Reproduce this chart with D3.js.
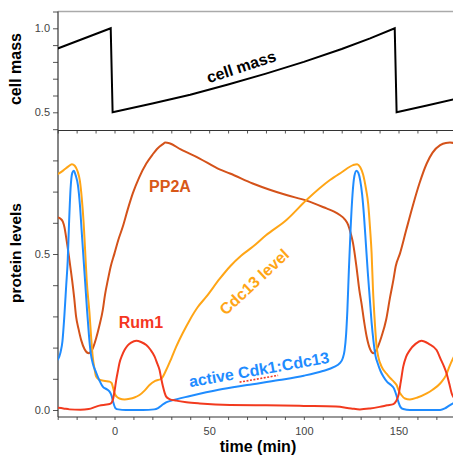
<!DOCTYPE html>
<html>
<head>
<meta charset="utf-8">
<script src="https://cdn.jsdelivr.net/npm/d3@7"></script>
<style>
	body { margin: 0; background: #fff; }
	svg { display: block; font-family: 'Liberation Sans', Arial, sans-serif; }
</style>
</head>
<body>
<svg id="chart" width="453" height="460"></svg>
<script>
// values (time in min)
const massT = [-30, -2, -1, 20, 40, 60, 80, 100, 120, 135, 148, 149, 165, 180];
const massV = [0.88, 1.0, 0.5, 0.552, 0.605, 0.665, 0.73, 0.8, 0.877, 0.94, 1.0, 0.5, 0.54, 0.58];

const cdkT = [-30, -28.5, -27.5, -26.5, -25.5, -24.7, -24, -23.2, -22.3, -21.5, -20.5, -19.3, -18.3, -17.3, -16.3, -15.5, -14.5, -13.5, -12.5, -11.5, -9.7, -8, -6.2, -4, -2.6, -1.5, -0.9, 0.5, 2, 6, 15, 21, 23, 25, 27, 30, 40, 55, 70, 87, 100, 110, 116, 119, 120.5, 121.5, 122.3, 123, 123.8, 124.7, 125.7, 126.7, 127.8, 128.8, 129.8, 130.8, 131.8, 132.8, 133.8, 134.8, 135.8, 136.8, 137.8, 139, 140.5, 142, 144, 146, 147.5, 149, 150, 151, 152.5, 156, 172, 174.5, 177, 180];
const cdkV = [0.16, 0.185, 0.22, 0.3, 0.4, 0.48, 0.6, 0.71, 0.76, 0.767, 0.752, 0.72, 0.66, 0.57, 0.48, 0.41, 0.32, 0.24, 0.18, 0.15, 0.12, 0.095, 0.075, 0.066, 0.059, 0.045, 0.03, 0.006, 0.002, 0, 0, 0.002, 0.006, 0.015, 0.024, 0.03, 0.045, 0.065, 0.08, 0.096, 0.11, 0.125, 0.138, 0.15, 0.165, 0.19, 0.24, 0.32, 0.45, 0.58, 0.69, 0.75, 0.767, 0.76, 0.735, 0.69, 0.62, 0.53, 0.44, 0.36, 0.28, 0.22, 0.175, 0.15, 0.125, 0.107, 0.09, 0.08, 0.07, 0.045, 0.025, 0.01, 0.003, 0, 0, 0.005, 0.015, 0.025];

const cdc13T = [-30, -27, -24.5, -22.5, -21, -19.5, -18.3, -17.3, -16.3, -15.5, -14.7, -13.2, -12.3, -11.5, -10.5, -9.7, -8, -5, -2.6, -1.5, -0.7, 0, 1.3, 2.6, 5.3, 8, 10.5, 13.2, 16, 18.5, 21.5, 24.7, 27.3, 30, 32.6, 36, 39.7, 44, 48.5, 55.5, 61, 67, 73, 80, 90.8, 101.4, 113.8, 120, 126, 128.2, 129.8, 131.3, 132.8, 134, 135, 135.8, 136.5, 137.5, 138.5, 139.3, 141, 144.3, 146, 147.5, 149, 150, 151.5, 153.4, 156, 160, 164.9, 168, 172, 175, 177.2, 180];
const cdc13V = [0.756, 0.768, 0.78, 0.788, 0.783, 0.765, 0.735, 0.68, 0.6, 0.51, 0.417, 0.31, 0.23, 0.17, 0.13, 0.107, 0.097, 0.093, 0.091, 0.086, 0.07, 0.054, 0.042, 0.037, 0.034, 0.036, 0.04, 0.048, 0.063, 0.08, 0.093, 0.1, 0.128, 0.165, 0.203, 0.246, 0.288, 0.33, 0.363, 0.42, 0.46, 0.495, 0.523, 0.56, 0.609, 0.673, 0.737, 0.762, 0.785, 0.788, 0.778, 0.755, 0.71, 0.66, 0.58, 0.502, 0.39, 0.28, 0.2, 0.171, 0.14, 0.112, 0.1, 0.091, 0.08, 0.064, 0.048, 0.037, 0.034, 0.04, 0.053, 0.065, 0.085, 0.11, 0.144, 0.18];

const pp2aT = [-30, -28.5, -27.3, -26.4, -25.6, -24.7, -23.8, -22.4, -21.3, -20.3, -19, -17.6, -15.8, -13.6, -11.5, -9.7, -8, -6.2, -5, -3.5, -2, 0, 2, 4.4, 7, 9.7, 13, 16.8, 20, 23, 25.6, 26.8, 29, 35, 45, 55.5, 61, 73, 82, 90.8, 101.4, 112, 116, 119, 121.5, 123.4, 124.8, 126, 127, 127.8, 129.3, 130.5, 131.8, 133.2, 135, 136.7, 138.5, 141, 143.5, 145.5, 147.3, 148.5, 150.8, 154, 157.9, 161, 164.9, 168, 172, 175, 177.2, 180];
const pp2aV = [0.617, 0.613, 0.604, 0.585, 0.556, 0.52, 0.48, 0.417, 0.36, 0.3, 0.26, 0.224, 0.195, 0.182, 0.197, 0.23, 0.27, 0.32, 0.37, 0.417, 0.46, 0.502, 0.545, 0.588, 0.643, 0.695, 0.745, 0.79, 0.818, 0.84, 0.852, 0.857, 0.855, 0.835, 0.806, 0.771, 0.758, 0.726, 0.706, 0.689, 0.671, 0.646, 0.636, 0.625, 0.612, 0.593, 0.565, 0.534, 0.495, 0.459, 0.385, 0.34, 0.285, 0.235, 0.195, 0.182, 0.195, 0.235, 0.29, 0.36, 0.417, 0.46, 0.502, 0.575, 0.662, 0.725, 0.79, 0.825, 0.849, 0.856, 0.857, 0.855];

const rum1T = [-30, -27, -23.8, -18, -13.6, -10, -8, -5, -2.6, -1.5, -0.9, 0, 0.9, 1.8, 2.6, 4, 5.3, 7, 8.8, 11.5, 14, 16.8, 19, 21.2, 22.5, 23.8, 24.7, 25.6, 26.5, 27.3, 29, 32.6, 38, 45, 61, 80, 100, 117, 125, 129.6, 135, 140, 144, 147.3, 148.7, 150, 151.2, 152.5, 154, 156, 159, 162.2, 166, 170.1, 172.5, 174, 175.4, 176.8, 178.1, 180];
const rum1V = [0.007, 0.005, 0.002, 0.001, 0.003, 0.01, 0.014, 0.017, 0.019, 0.024, 0.032, 0.06, 0.096, 0.125, 0.15, 0.175, 0.192, 0.207, 0.216, 0.222, 0.218, 0.208, 0.193, 0.171, 0.15, 0.128, 0.1, 0.075, 0.055, 0.043, 0.035, 0.03, 0.025, 0.021, 0.016, 0.015, 0.013, 0.011, 0.005, 0.002, 0.005, 0.01, 0.015, 0.019, 0.028, 0.048, 0.09, 0.139, 0.17, 0.192, 0.212, 0.222, 0.212, 0.192, 0.16, 0.14, 0.117, 0.085, 0.053, 0.035];

const xTicks = [0, 50, 100, 150];
const massTicks = [0.5, 1.0];
const proteinTicks = [0.0, 0.5];

const svg = d3.select('#chart');
const left = 58, right = 456;
const topY = 11.5, midY = 130.5, botY = 417;

const x = d3.scaleLinear().domain([0, 150]).range([114.5, 398.5]);
const yMass = d3.scaleLinear().domain([0.5, 1.0]).range([112.3, 28.3]);
const yProt = d3.scaleLinear().domain([0, 0.5]).range([410, 254]);

const defs = svg.append('defs');
defs.append('clipPath').attr('id', 'clipTop')
	.append('rect').attr('x', left).attr('y', topY).attr('width', right - left).attr('height', midY - topY);
defs.append('clipPath').attr('id', 'clipBot')
	.append('rect').attr('x', left).attr('y', midY).attr('width', right - left).attr('height', botY - midY);

svg.append('line').attr('x1', left).attr('x2', right).attr('y1', topY).attr('y2', topY)
	.style('stroke', '#aaa').style('stroke-width', 1.5);

// x axes: tick every 10, labels at 0/50/100/150
const minorX = d3.range(-30, 181, 10);
svg.append('g').attr('transform', `translate(0,${midY})`)
	.call(d3.axisBottom(x).tickValues(minorX).tickSize(3).tickFormat(''));
svg.append('g').attr('class', 'xb').attr('transform', `translate(0,${botY})`)
	.call(d3.axisBottom(x).tickValues(minorX).tickSize(3).tickFormat((d) => (xTicks.includes(d) ? d : '')));

// y axes: tick every 0.1, labels on the named values
const fmt = (list) => (d) => (list.some((m) => Math.abs(m - d) < 1e-6) ? d3.format('.1f')(d) : '');
svg.append('g').attr('transform', `translate(${left},0)`)
	.call(d3.axisLeft(yMass).tickValues(d3.range(0.5, 1.101, 0.1)).tickSize(5).tickFormat(fmt(massTicks)));
svg.append('g').attr('transform', `translate(${left},0)`)
	.call(d3.axisLeft(yProt).tickValues(d3.range(0, 0.91, 0.1)).tickSize(5).tickFormat(fmt(proteinTicks)));

svg.selectAll('.domain').remove();
svg.selectAll('.tick line').style('stroke', '#555');
svg.selectAll('.tick text').style('font-size', '11px').style('fill', '#444');
svg.selectAll('.xb .tick text').attr('dy', '1.05em');

svg.append('line').attr('x1', left).attr('x2', right).attr('y1', midY).attr('y2', midY)
	.style('stroke', '#333').style('stroke-width', 1.2);
svg.append('line').attr('x1', left).attr('x2', right).attr('y1', botY).attr('y2', botY)
	.style('stroke', '#333').style('stroke-width', 1.2);
svg.append('line').attr('x1', left).attr('x2', left).attr('y1', topY).attr('y2', botY)
	.style('stroke', '#333').style('stroke-width', 1.2);

// curves
const massLine = d3.line().x((d) => x(d[0])).y((d) => yMass(d[1]));
svg.append('path')
	.datum(d3.zip(massT, massV))
	.attr('clip-path', 'url(#clipTop)')
	.attr('d', massLine)
	.style('fill', 'none').style('stroke', '#000').style('stroke-width', 2);

const protLine = d3.line().curve(d3.curveMonotoneX).x((d) => x(d[0])).y((d) => yProt(d[1]));
const series = [
	{ t: pp2aT, v: pp2aV, color: '#d4521a' },
	{ t: cdc13T, v: cdc13V, color: '#ffa516' },
	{ t: cdkT, v: cdkV, color: '#1f8cff' },
	{ t: rum1T, v: rum1V, color: '#f23a1e' },
];
const gBot = svg.append('g').attr('clip-path', 'url(#clipBot)');
series.forEach((s) => {
	gBot.append('path')
		.datum(d3.zip(s.t, s.v))
		.attr('d', protLine)
		.style('fill', 'none').style('stroke', s.color).style('stroke-width', 2);
});

// axis titles
svg.append('text').attr('transform', 'translate(21,69) rotate(-90)')
	.attr('text-anchor', 'middle').style('font-weight', 'bold').style('font-size', '16px').text('cell mass');
svg.append('text').attr('transform', 'translate(21,253) rotate(-90)')
	.attr('text-anchor', 'middle').style('font-weight', 'bold').style('font-size', '15.5px').text('protein levels');
svg.append('text').attr('x', 258).attr('y', 452)
	.attr('text-anchor', 'middle').style('font-weight', 'bold').style('font-size', '16px').text('time (min)');

// curve labels
function label(txt, cx, cy, angle, color, size) {
	return svg.append('text')
		.attr('transform', `translate(${cx},${cy}) rotate(${angle})`)
		.attr('text-anchor', 'middle')
		.style('font-weight', 'bold').style('font-size', size + 'px').style('fill', color)
		.text(txt);
}
label('cell mass', 243, 72, -18, '#000', 16);
label('PP2A', 170, 192, 0, '#d85818', 16);
label('Rum1', 141, 328, 0, '#f5361f', 16);
label('Cdc13 level', 258, 286, -43, '#ffa516', 16);
const act = label('active Cdk1:Cdc13', 260, 375, -10, '#1f8cff', 16);

// dotted spell-check underline under "Cdk1"
const node = act.node();
const full = node.getComputedTextLength();
const start = node.getSubStringLength(0, 7) - full / 2;
const len = node.getSubStringLength(7, 4);
svg.append('line')
	.attr('transform', 'translate(260,375) rotate(-10)')
	.attr('x1', start).attr('x2', start + len).attr('y1', 3.5).attr('y2', 3.5)
	.style('stroke', '#f03c2a').style('stroke-width', 1.6).style('stroke-dasharray', '2,1.5');
</script>
</body>
</html>
